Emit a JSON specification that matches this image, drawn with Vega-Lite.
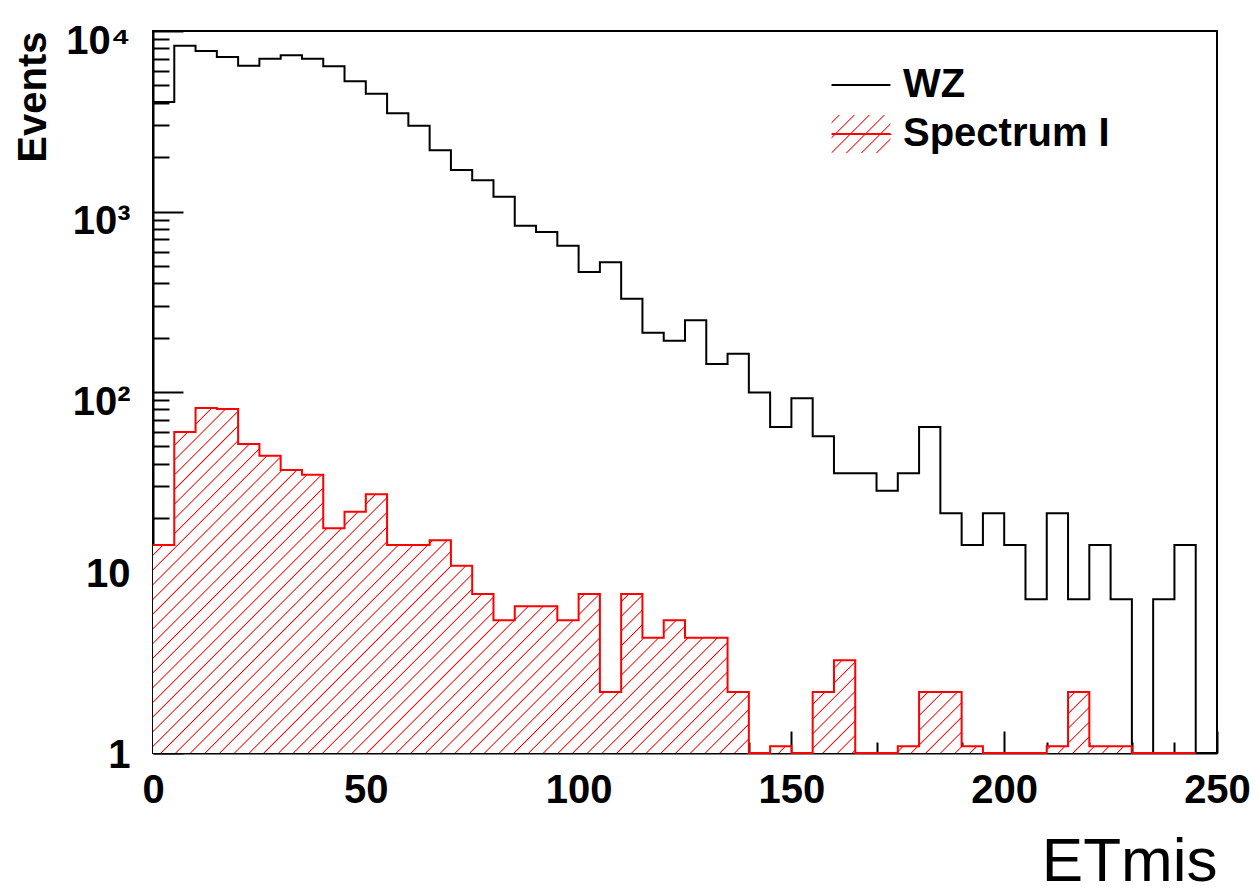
{
"$schema": "https://vega.github.io/schema/vega-lite/v6.json",
"width": 1064, "height": 722,
"autosize": "none",
"padding": {"left": 153, "top": 31, "right": 42, "bottom": 141},
"background": "white",
"config": {
  "view": {"stroke": "black", "strokeWidth": 2},
  "axis": {"zindex": 1, "grid": false, "domainColor": "black", "domainWidth": 2, "tickColor": "black", "tickWidth": 2,
    "labelFont": "Liberation Sans", "labelFontWeight": "bold", "labelFontSize": 40, "labelColor": "black",
    "labelFlush": false, "labelOverlap": false, "labelBound": false,
    "titleFont": "Liberation Sans", "titleColor": "black"}
},
"data": {"values": [
{"lo":0,"WZ":4045,"Spectrum I":14.2},{"lo":5,"WZ":8290,"Spectrum I":60},{"lo":10,"WZ":7745,"Spectrum I":81.5},{"lo":15,"WZ":7180,"Spectrum I":80.5},{"lo":20,"WZ":6425,"Spectrum I":51.5},
{"lo":25,"WZ":7030,"Spectrum I":44.4},{"lo":30,"WZ":7330,"Spectrum I":37},{"lo":35,"WZ":7030,"Spectrum I":34.8},{"lo":40,"WZ":6370,"Spectrum I":17.6},{"lo":45,"WZ":5260,"Spectrum I":21.7},
{"lo":50,"WZ":4495,"Spectrum I":27.1},{"lo":55,"WZ":3500,"Spectrum I":14.2},{"lo":60,"WZ":2985,"Spectrum I":14.2},{"lo":65,"WZ":2183,"Spectrum I":15.1},{"lo":70,"WZ":1698,"Spectrum I":10.9},
{"lo":75,"WZ":1490,"Spectrum I":7.6},{"lo":80,"WZ":1208,"Spectrum I":5.44},{"lo":85,"WZ":834,"Spectrum I":6.5},{"lo":90,"WZ":770,"Spectrum I":6.5},{"lo":95,"WZ":647,"Spectrum I":5.44},
{"lo":100,"WZ":462,"Spectrum I":7.6},{"lo":105,"WZ":523,"Spectrum I":2.18},{"lo":110,"WZ":329,"Spectrum I":7.6},{"lo":115,"WZ":213,"Spectrum I":4.35},{"lo":120,"WZ":192,"Spectrum I":5.44},
{"lo":125,"WZ":250,"Spectrum I":4.35},{"lo":130,"WZ":143,"Spectrum I":4.35},{"lo":135,"WZ":163,"Spectrum I":2.18},{"lo":140,"WZ":99.4,"Spectrum I":0},{"lo":145,"WZ":63.9,"Spectrum I":1.09},
{"lo":150,"WZ":92.3,"Spectrum I":0},{"lo":155,"WZ":56.8,"Spectrum I":2.18},{"lo":160,"WZ":35.5,"Spectrum I":3.26},{"lo":165,"WZ":35.5,"Spectrum I":0},{"lo":170,"WZ":28.4,"Spectrum I":0},
{"lo":175,"WZ":35.5,"Spectrum I":1.09},{"lo":180,"WZ":63.9,"Spectrum I":2.18},{"lo":185,"WZ":21.3,"Spectrum I":2.18},{"lo":190,"WZ":14.2,"Spectrum I":1.09},{"lo":195,"WZ":21.3,"Spectrum I":0},
{"lo":200,"WZ":14.2,"Spectrum I":0},{"lo":205,"WZ":7.1,"Spectrum I":0},{"lo":210,"WZ":21.3,"Spectrum I":1.09},{"lo":215,"WZ":7.1,"Spectrum I":2.18},{"lo":220,"WZ":14.2,"Spectrum I":1.09},
{"lo":225,"WZ":7.1,"Spectrum I":1.09},{"lo":230,"WZ":0,"Spectrum I":0},{"lo":235,"WZ":7.1,"Spectrum I":0},{"lo":240,"WZ":14.2,"Spectrum I":0},{"lo":245,"WZ":0,"Spectrum I":0}
]},
"transform": [{"fold": ["WZ", "Spectrum I"], "as": ["series", "n"]}],
"layer": [
  {
    "transform": [{"filter": "datum.series === 'Spectrum I'"}],
    "mark": {"type": "area", "interpolate": "step-after", "fill": {"gradient": "linear", "x1": 0, "y1": 0, "x2": 1.1995, "y2": 0.3969, "stops": [
{"offset":0.0097,"color":"#fff"},{"offset":0.0106,"color":"#f00"},{"offset":0.0115,"color":"#fff"},
{"offset":0.0203,"color":"#fff"},{"offset":0.0212,"color":"#f00"},{"offset":0.0221,"color":"#fff"},
{"offset":0.0309,"color":"#fff"},{"offset":0.0318,"color":"#f00"},{"offset":0.0327,"color":"#fff"},
{"offset":0.0415,"color":"#fff"},{"offset":0.0424,"color":"#f00"},{"offset":0.0433,"color":"#fff"},
{"offset":0.0521,"color":"#fff"},{"offset":0.0530,"color":"#f00"},{"offset":0.0539,"color":"#fff"},
{"offset":0.0627,"color":"#fff"},{"offset":0.0636,"color":"#f00"},{"offset":0.0645,"color":"#fff"},
{"offset":0.0733,"color":"#fff"},{"offset":0.0742,"color":"#f00"},{"offset":0.0751,"color":"#fff"},
{"offset":0.0839,"color":"#fff"},{"offset":0.0848,"color":"#f00"},{"offset":0.0857,"color":"#fff"},
{"offset":0.0945,"color":"#fff"},{"offset":0.0954,"color":"#f00"},{"offset":0.0963,"color":"#fff"},
{"offset":0.1051,"color":"#fff"},{"offset":0.1060,"color":"#f00"},{"offset":0.1069,"color":"#fff"},
{"offset":0.1157,"color":"#fff"},{"offset":0.1166,"color":"#f00"},{"offset":0.1175,"color":"#fff"},
{"offset":0.1263,"color":"#fff"},{"offset":0.1272,"color":"#f00"},{"offset":0.1281,"color":"#fff"},
{"offset":0.1369,"color":"#fff"},{"offset":0.1378,"color":"#f00"},{"offset":0.1387,"color":"#fff"},
{"offset":0.1475,"color":"#fff"},{"offset":0.1484,"color":"#f00"},{"offset":0.1493,"color":"#fff"},
{"offset":0.1581,"color":"#fff"},{"offset":0.1590,"color":"#f00"},{"offset":0.1599,"color":"#fff"},
{"offset":0.1687,"color":"#fff"},{"offset":0.1696,"color":"#f00"},{"offset":0.1705,"color":"#fff"},
{"offset":0.1793,"color":"#fff"},{"offset":0.1802,"color":"#f00"},{"offset":0.1811,"color":"#fff"},
{"offset":0.1899,"color":"#fff"},{"offset":0.1908,"color":"#f00"},{"offset":0.1917,"color":"#fff"},
{"offset":0.2005,"color":"#fff"},{"offset":0.2014,"color":"#f00"},{"offset":0.2023,"color":"#fff"},
{"offset":0.2111,"color":"#fff"},{"offset":0.2120,"color":"#f00"},{"offset":0.2129,"color":"#fff"},
{"offset":0.2217,"color":"#fff"},{"offset":0.2226,"color":"#f00"},{"offset":0.2235,"color":"#fff"},
{"offset":0.2323,"color":"#fff"},{"offset":0.2332,"color":"#f00"},{"offset":0.2341,"color":"#fff"},
{"offset":0.2429,"color":"#fff"},{"offset":0.2438,"color":"#f00"},{"offset":0.2447,"color":"#fff"},
{"offset":0.2535,"color":"#fff"},{"offset":0.2544,"color":"#f00"},{"offset":0.2553,"color":"#fff"},
{"offset":0.2641,"color":"#fff"},{"offset":0.2650,"color":"#f00"},{"offset":0.2659,"color":"#fff"},
{"offset":0.2747,"color":"#fff"},{"offset":0.2756,"color":"#f00"},{"offset":0.2765,"color":"#fff"},
{"offset":0.2853,"color":"#fff"},{"offset":0.2862,"color":"#f00"},{"offset":0.2871,"color":"#fff"},
{"offset":0.2959,"color":"#fff"},{"offset":0.2968,"color":"#f00"},{"offset":0.2977,"color":"#fff"},
{"offset":0.3065,"color":"#fff"},{"offset":0.3074,"color":"#f00"},{"offset":0.3083,"color":"#fff"},
{"offset":0.3171,"color":"#fff"},{"offset":0.3180,"color":"#f00"},{"offset":0.3189,"color":"#fff"},
{"offset":0.3277,"color":"#fff"},{"offset":0.3286,"color":"#f00"},{"offset":0.3295,"color":"#fff"},
{"offset":0.3383,"color":"#fff"},{"offset":0.3392,"color":"#f00"},{"offset":0.3401,"color":"#fff"},
{"offset":0.3489,"color":"#fff"},{"offset":0.3498,"color":"#f00"},{"offset":0.3507,"color":"#fff"},
{"offset":0.3595,"color":"#fff"},{"offset":0.3604,"color":"#f00"},{"offset":0.3613,"color":"#fff"},
{"offset":0.3701,"color":"#fff"},{"offset":0.3710,"color":"#f00"},{"offset":0.3719,"color":"#fff"},
{"offset":0.3807,"color":"#fff"},{"offset":0.3816,"color":"#f00"},{"offset":0.3825,"color":"#fff"},
{"offset":0.3913,"color":"#fff"},{"offset":0.3922,"color":"#f00"},{"offset":0.3931,"color":"#fff"},
{"offset":0.4019,"color":"#fff"},{"offset":0.4028,"color":"#f00"},{"offset":0.4037,"color":"#fff"},
{"offset":0.4125,"color":"#fff"},{"offset":0.4134,"color":"#f00"},{"offset":0.4143,"color":"#fff"},
{"offset":0.4231,"color":"#fff"},{"offset":0.4240,"color":"#f00"},{"offset":0.4249,"color":"#fff"},
{"offset":0.4337,"color":"#fff"},{"offset":0.4346,"color":"#f00"},{"offset":0.4355,"color":"#fff"},
{"offset":0.4443,"color":"#fff"},{"offset":0.4452,"color":"#f00"},{"offset":0.4461,"color":"#fff"},
{"offset":0.4549,"color":"#fff"},{"offset":0.4558,"color":"#f00"},{"offset":0.4567,"color":"#fff"},
{"offset":0.4655,"color":"#fff"},{"offset":0.4664,"color":"#f00"},{"offset":0.4673,"color":"#fff"},
{"offset":0.4761,"color":"#fff"},{"offset":0.4770,"color":"#f00"},{"offset":0.4779,"color":"#fff"},
{"offset":0.4867,"color":"#fff"},{"offset":0.4876,"color":"#f00"},{"offset":0.4885,"color":"#fff"},
{"offset":0.4973,"color":"#fff"},{"offset":0.4982,"color":"#f00"},{"offset":0.4991,"color":"#fff"},
{"offset":0.5079,"color":"#fff"},{"offset":0.5088,"color":"#f00"},{"offset":0.5097,"color":"#fff"},
{"offset":0.5185,"color":"#fff"},{"offset":0.5194,"color":"#f00"},{"offset":0.5203,"color":"#fff"},
{"offset":0.5291,"color":"#fff"},{"offset":0.5300,"color":"#f00"},{"offset":0.5309,"color":"#fff"},
{"offset":0.5397,"color":"#fff"},{"offset":0.5406,"color":"#f00"},{"offset":0.5415,"color":"#fff"},
{"offset":0.5503,"color":"#fff"},{"offset":0.5512,"color":"#f00"},{"offset":0.5521,"color":"#fff"},
{"offset":0.5609,"color":"#fff"},{"offset":0.5618,"color":"#f00"},{"offset":0.5627,"color":"#fff"},
{"offset":0.5715,"color":"#fff"},{"offset":0.5724,"color":"#f00"},{"offset":0.5733,"color":"#fff"},
{"offset":0.5821,"color":"#fff"},{"offset":0.5830,"color":"#f00"},{"offset":0.5839,"color":"#fff"},
{"offset":0.5927,"color":"#fff"},{"offset":0.5936,"color":"#f00"},{"offset":0.5945,"color":"#fff"},
{"offset":0.6033,"color":"#fff"},{"offset":0.6042,"color":"#f00"},{"offset":0.6051,"color":"#fff"},
{"offset":0.6139,"color":"#fff"},{"offset":0.6148,"color":"#f00"},{"offset":0.6157,"color":"#fff"},
{"offset":0.6245,"color":"#fff"},{"offset":0.6254,"color":"#f00"},{"offset":0.6263,"color":"#fff"},
{"offset":0.6351,"color":"#fff"},{"offset":0.6360,"color":"#f00"},{"offset":0.6369,"color":"#fff"},
{"offset":0.6457,"color":"#fff"},{"offset":0.6466,"color":"#f00"},{"offset":0.6475,"color":"#fff"},
{"offset":0.6563,"color":"#fff"},{"offset":0.6572,"color":"#f00"},{"offset":0.6581,"color":"#fff"},
{"offset":0.6669,"color":"#fff"},{"offset":0.6678,"color":"#f00"},{"offset":0.6687,"color":"#fff"},
{"offset":0.6775,"color":"#fff"},{"offset":0.6784,"color":"#f00"},{"offset":0.6793,"color":"#fff"},
{"offset":0.6881,"color":"#fff"},{"offset":0.6890,"color":"#f00"},{"offset":0.6899,"color":"#fff"},
{"offset":0.6987,"color":"#fff"},{"offset":0.6996,"color":"#f00"},{"offset":0.7005,"color":"#fff"},
{"offset":0.7093,"color":"#fff"},{"offset":0.7102,"color":"#f00"},{"offset":0.7111,"color":"#fff"},
{"offset":0.7199,"color":"#fff"},{"offset":0.7208,"color":"#f00"},{"offset":0.7217,"color":"#fff"},
{"offset":0.7305,"color":"#fff"},{"offset":0.7314,"color":"#f00"},{"offset":0.7323,"color":"#fff"},
{"offset":0.7411,"color":"#fff"},{"offset":0.7420,"color":"#f00"},{"offset":0.7429,"color":"#fff"},
{"offset":0.7517,"color":"#fff"},{"offset":0.7526,"color":"#f00"},{"offset":0.7535,"color":"#fff"},
{"offset":0.7623,"color":"#fff"},{"offset":0.7632,"color":"#f00"},{"offset":0.7641,"color":"#fff"},
{"offset":0.7729,"color":"#fff"},{"offset":0.7738,"color":"#f00"},{"offset":0.7747,"color":"#fff"},
{"offset":0.7835,"color":"#fff"},{"offset":0.7844,"color":"#f00"},{"offset":0.7853,"color":"#fff"},
{"offset":0.7941,"color":"#fff"},{"offset":0.7950,"color":"#f00"},{"offset":0.7959,"color":"#fff"},
{"offset":0.8047,"color":"#fff"},{"offset":0.8056,"color":"#f00"},{"offset":0.8065,"color":"#fff"},
{"offset":0.8153,"color":"#fff"},{"offset":0.8162,"color":"#f00"},{"offset":0.8171,"color":"#fff"},
{"offset":0.8259,"color":"#fff"},{"offset":0.8268,"color":"#f00"},{"offset":0.8277,"color":"#fff"},
{"offset":0.8365,"color":"#fff"},{"offset":0.8374,"color":"#f00"},{"offset":0.8383,"color":"#fff"},
{"offset":0.8471,"color":"#fff"},{"offset":0.8480,"color":"#f00"},{"offset":0.8489,"color":"#fff"},
{"offset":0.8577,"color":"#fff"},{"offset":0.8586,"color":"#f00"},{"offset":0.8595,"color":"#fff"},
{"offset":0.8683,"color":"#fff"},{"offset":0.8692,"color":"#f00"},{"offset":0.8701,"color":"#fff"},
{"offset":0.8789,"color":"#fff"},{"offset":0.8798,"color":"#f00"},{"offset":0.8807,"color":"#fff"},
{"offset":0.8895,"color":"#fff"},{"offset":0.8904,"color":"#f00"},{"offset":0.8913,"color":"#fff"},
{"offset":0.9001,"color":"#fff"},{"offset":0.9010,"color":"#f00"},{"offset":0.9019,"color":"#fff"},
{"offset":0.9107,"color":"#fff"},{"offset":0.9116,"color":"#f00"},{"offset":0.9125,"color":"#fff"},
{"offset":0.9213,"color":"#fff"},{"offset":0.9222,"color":"#f00"},{"offset":0.9231,"color":"#fff"},
{"offset":0.9319,"color":"#fff"},{"offset":0.9328,"color":"#f00"},{"offset":0.9337,"color":"#fff"},
{"offset":0.9425,"color":"#fff"},{"offset":0.9434,"color":"#f00"},{"offset":0.9443,"color":"#fff"},
{"offset":0.9531,"color":"#fff"},{"offset":0.9540,"color":"#f00"},{"offset":0.9549,"color":"#fff"},
{"offset":0.9637,"color":"#fff"},{"offset":0.9646,"color":"#f00"},{"offset":0.9655,"color":"#fff"},
{"offset":0.9743,"color":"#fff"},{"offset":0.9752,"color":"#f00"},{"offset":0.9761,"color":"#fff"},
{"offset":0.9849,"color":"#fff"},{"offset":0.9858,"color":"#f00"},{"offset":0.9867,"color":"#fff"},
{"offset":0.9955,"color":"#fff"},{"offset":0.9964,"color":"#f00"},{"offset":0.9973,"color":"#fff"}
    ]}},
    "encoding": {
      "x": {"field": "lo", "type": "quantitative", "scale": {"domain": [0, 250], "nice": false, "zero": false},
        "axis": {"orient": "bottom", "values": [0, 50, 100, 150, 200, 250], "format": "d", "tickSize": -22, "labelPadding": 39,
          "title": "ETmis", "titleFontSize": 62, "titleFontWeight": "normal", "titleAnchor": "end", "titleAlign": "right", "titleBaseline": "alphabetic", "titleY": 127}},
      "y": {"field": "n", "type": "quantitative", "scale": {"type": "log", "domain": [1, 10000], "nice": false, "clamp": true},
        "axis": {"orient": "left", "values": [1, 10, 100, 1000, 10000], "tickSize": -30, "labelPadding": 53,
          "labelExpr": "datum.value == 1 ? '1' : datum.value == 10 ? '10' : datum.value == 100 ? '10\u00b2' : datum.value == 1000 ? '10\u00b3' : '10\u2074'",
          "labelOffset": {"condition": {"test": "datum.value >= 100", "value": 10}, "value": 2},
          "title": "Events", "titleFontSize": 40, "titleFontWeight": "bold", "titleAngle": 270, "titleAlign": "right", "titleBaseline": "alphabetic", "titleX": -108, "titleY": 0}},
      "y2": {"datum": 1}
    }
  },
  {
    "mark": {"type": "line", "interpolate": "step-after", "strokeWidth": 2},
    "encoding": {
      "x": {"field": "lo", "type": "quantitative", "scale": {"domain": [0, 250], "nice": false, "zero": false},
        "axis": {"orient": "bottom", "values": [10,20,30,40,60,70,80,90,110,120,130,140,160,170,180,190,210,220,230,240], "tickSize": -11, "labels": false, "domain": false, "title": null}},
      "y": {"field": "n", "type": "quantitative", "scale": {"type": "log", "domain": [1, 10000], "nice": false, "clamp": true},
        "axis": {"orient": "left", "values": [2,3,4,5,6,7,8,9,20,30,40,50,60,70,80,90,200,300,400,500,600,700,800,900,2000,3000,4000,5000,6000,7000,8000,9000], "tickSize": -16, "labels": false, "domain": false, "title": null}},
      "stroke": {"field": "series", "type": "nominal", "scale": {"domain": ["WZ", "Spectrum I"], "range": ["black", "#ff0000"]},
        "legend": {"orient": "none", "legendX": 688, "legendY": 34, "direction": "vertical", "title": null, "padding": 0, "rowPadding": 6,
          "symbolType": "M-1.55,0H1.55", "symbolSize": 1444, "symbolStrokeWidth": 2, "labelOffset": 22,
          "labelFont": "Liberation Sans", "labelFontSize": 40, "labelFontWeight": "bold", "labelColor": "black", "labelLimit": 400,
          "encode": {"symbols": {"update": {
            "shape": [{"test": "datum.value === 'Spectrum I'", "value": "M-1.55,0H1.55V-1H-1.55V1H1.55V0"}, {"value": "M-1.55,0H1.55"}],
            "strokeDash": {"value": [59, 400]},
            "fill": [{"test": "datum.value === 'Spectrum I'", "value": {"gradient": "linear", "x1": 0, "y1": 0, "x2": 1.162, "y2": 0.749, "stops": [
              {"offset": 0.067, "color": "rgba(255,0,0,0)"}, {"offset": 0.08, "color": "#f00"}, {"offset": 0.093, "color": "rgba(255,0,0,0)"},
              {"offset": 0.222, "color": "rgba(255,0,0,0)"}, {"offset": 0.235, "color": "#f00"}, {"offset": 0.248, "color": "rgba(255,0,0,0)"},
              {"offset": 0.377, "color": "rgba(255,0,0,0)"}, {"offset": 0.39, "color": "#f00"}, {"offset": 0.403, "color": "rgba(255,0,0,0)"},
              {"offset": 0.532, "color": "rgba(255,0,0,0)"}, {"offset": 0.545, "color": "#f00"}, {"offset": 0.558, "color": "rgba(255,0,0,0)"},
              {"offset": 0.687, "color": "rgba(255,0,0,0)"}, {"offset": 0.70, "color": "#f00"}, {"offset": 0.713, "color": "rgba(255,0,0,0)"},
              {"offset": 0.842, "color": "rgba(255,0,0,0)"}, {"offset": 0.855, "color": "#f00"}, {"offset": 0.868, "color": "rgba(255,0,0,0)"}
            ]}}, {"value": "transparent"}]
          }}}}}
    }
  }
],
"resolve": {"axis": {"x": "independent", "y": "independent"}}
}
